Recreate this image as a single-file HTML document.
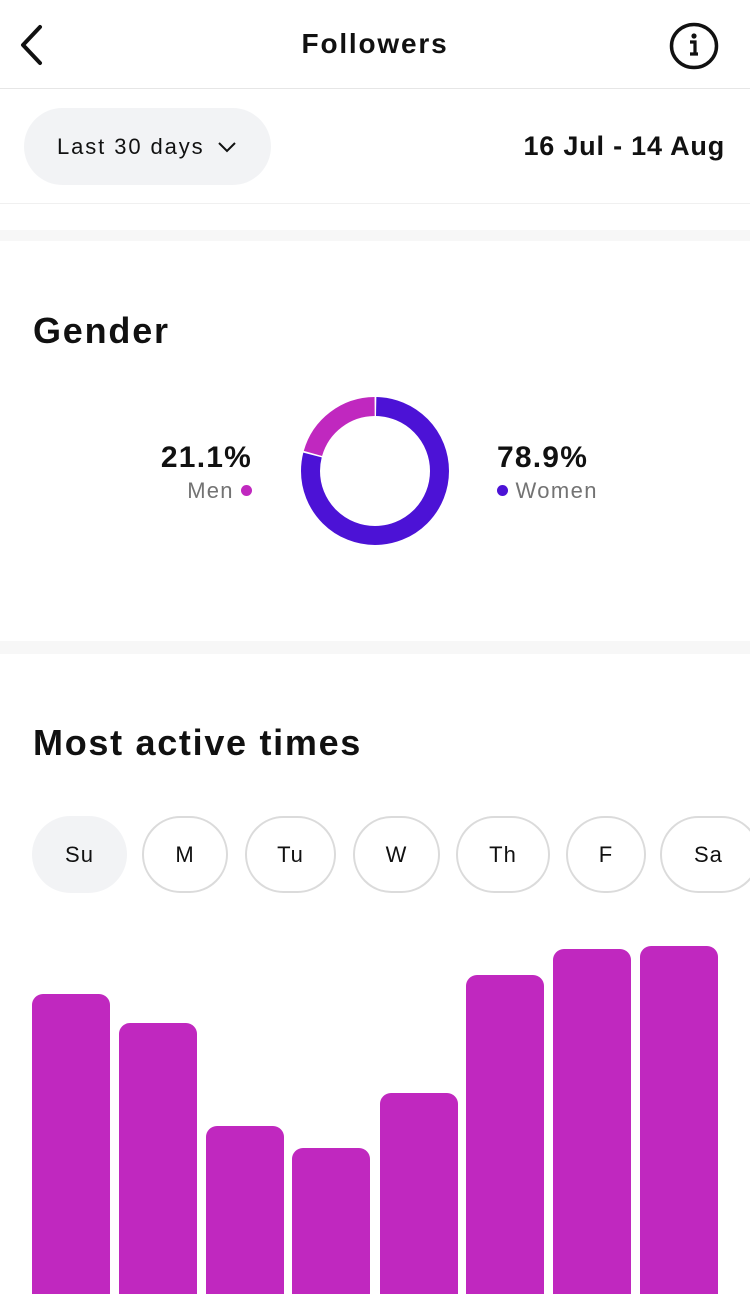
<!DOCTYPE html>
<html><head><meta charset="utf-8"><style>
*{margin:0;padding:0;box-sizing:border-box}
body{width:750px;height:1294px;overflow:hidden;background:#fff;font-family:"Liberation Sans",sans-serif;color:#111;position:relative}
.a{position:absolute}
.pill{position:absolute;top:816px;height:77px;border:2px solid #dbdbdb;border-radius:39px;font-size:22px;letter-spacing:1px;display:flex;align-items:center;justify-content:center;color:#111}
.bar{position:absolute;bottom:0;width:78px;background:#c028bf;border-radius:11px 11px 0 0}
</style></head><body>
<svg class="a" style="left:14px;top:24px" width="32" height="42" viewBox="0 0 32 42"><path d="M26 3 L9 21 L26 39" fill="none" stroke="#111" stroke-width="4" stroke-linecap="round" stroke-linejoin="round"/></svg>
<div class="a" style="left:0;width:750px;top:28px;text-align:center;font-size:28px;font-weight:bold;letter-spacing:1.8px">Followers</div>
<svg class="a" style="left:668px;top:21px" width="52" height="50" viewBox="0 0 52 50"><ellipse cx="26" cy="25" rx="22.5" ry="21.5" fill="none" stroke="#111" stroke-width="3.5"/><circle cx="26" cy="15" r="2.6" fill="#111"/><path d="M22 21h5v11M22 33h8" stroke="#111" stroke-width="3.2" fill="none"/></svg>
<div class="a" style="left:0;top:88px;width:750px;height:1px;background:#e6e6e6"></div>
<div class="a" style="left:24px;top:108px;width:247px;height:77px;border-radius:39px;background:#f2f3f5"></div>
<div class="a" style="left:57px;top:134px;font-size:22px;letter-spacing:1.9px">Last 30 days</div>
<svg class="a" style="left:217px;top:140px" width="20" height="14" viewBox="0 0 20 14"><path d="M2 3 L10 11 L18 3" fill="none" stroke="#111" stroke-width="2"/></svg>
<div class="a" style="right:25px;top:131px;font-size:27px;font-weight:bold;letter-spacing:0.8px">16 Jul - 14 Aug</div>
<div class="a" style="left:0;top:203px;width:750px;height:1px;background:#f0f0f0"></div>
<div class="a" style="left:0;top:230px;width:750px;height:11px;background:#f7f7f7"></div>
<div class="a" style="left:33px;top:310px;font-size:36px;font-weight:bold;letter-spacing:1.8px">Gender</div>
<div class="a" style="right:498px;top:441px;font-size:30px;font-weight:bold;letter-spacing:1.2px">21.1%</div>
<div class="a" style="right:498px;top:478px;font-size:22px;color:#737373;letter-spacing:1.2px">Men <span style="display:inline-block;width:11px;height:11px;border-radius:50%;background:#c028bf;vertical-align:2px"></span></div>
<div class="a" style="left:497px;top:441px;font-size:30px;font-weight:bold;letter-spacing:1.2px">78.9%</div>
<div class="a" style="left:497px;top:478px;font-size:22px;color:#737373;letter-spacing:1.4px"><span style="display:inline-block;width:11px;height:11px;border-radius:50%;background:#4c12d6;vertical-align:2px"></span> Women</div>
<svg class="a" style="left:295px;top:391px" width="160" height="160" viewBox="0 0 160 160">
<circle cx="80" cy="80" r="64.5" fill="none" stroke="#4c12d6" stroke-width="19" stroke-dasharray="318.8 86.5" stroke-dashoffset="-1.2" transform="rotate(-90 80 80)"/>
<circle cx="80" cy="80" r="64.5" fill="none" stroke="#c028bf" stroke-width="19" stroke-dasharray="83.1 322.2" stroke-dashoffset="-321.6" transform="rotate(-90 80 80)"/>
</svg>
<div class="a" style="left:0;top:641px;width:750px;height:13px;background:#f7f7f7"></div>
<div class="a" style="left:33px;top:722px;font-size:36px;font-weight:bold;letter-spacing:1.7px">Most active times</div>
<div class="pill" style="left:32px;width:95px;background:#f2f3f5;border-color:#f2f3f5">Su</div>
<div class="pill" style="left:142px;width:86px">M</div>
<div class="pill" style="left:245px;width:91px">Tu</div>
<div class="pill" style="left:353px;width:87px">W</div>
<div class="pill" style="left:456px;width:94px">Th</div>
<div class="pill" style="left:566px;width:80px">F</div>
<div class="pill" style="left:660px;width:100px;justify-content:flex-start;padding-left:32px">Sa</div>
<div class="bar" style="left:32px;top:994px"></div>
<div class="bar" style="left:119px;top:1023px"></div>
<div class="bar" style="left:206px;top:1126px"></div>
<div class="bar" style="left:292px;top:1148px"></div>
<div class="bar" style="left:380px;top:1093px"></div>
<div class="bar" style="left:466px;top:975px"></div>
<div class="bar" style="left:553px;top:949px"></div>
<div class="bar" style="left:640px;top:946px"></div>
</body></html>
